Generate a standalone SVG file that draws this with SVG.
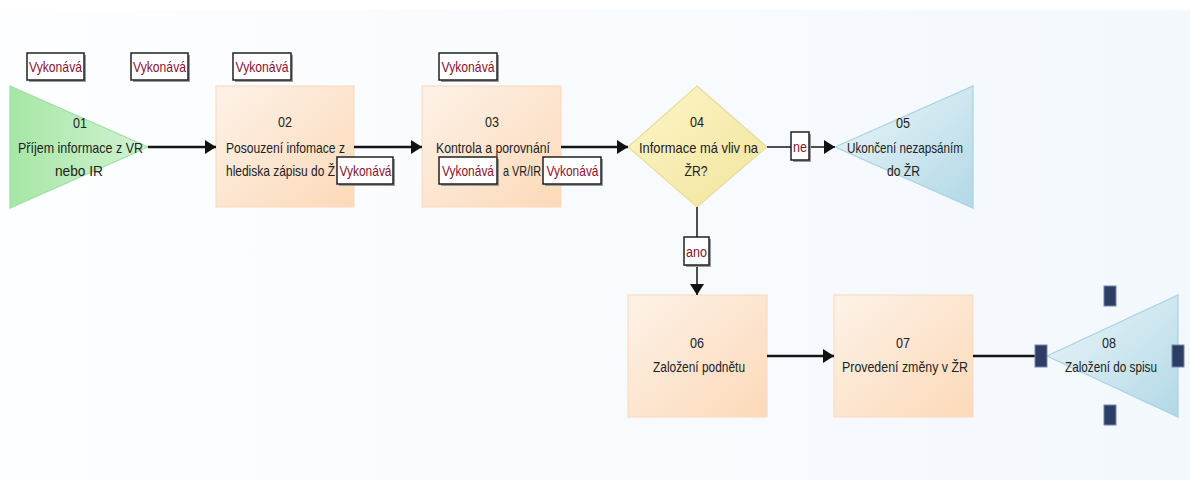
<svg xmlns="http://www.w3.org/2000/svg" width="1190" height="483" viewBox="0 0 1190 483">
<defs>
<linearGradient id="bg" x1="0" y1="0" x2="1" y2="0"><stop offset="0" stop-color="#fdfeff"/><stop offset="1" stop-color="#f3f8fd"/></linearGradient>
<linearGradient id="gGreen" x1="0" y1="0" x2="1" y2="0"><stop offset="0" stop-color="#a6e6a6"/><stop offset="1" stop-color="#d2f3d2"/></linearGradient>
<linearGradient id="gPeach" x1="0" y1="0" x2="1" y2="1"><stop offset="0" stop-color="#fdf2e8"/><stop offset="1" stop-color="#fcd9b8"/></linearGradient>
<linearGradient id="gYellow" x1="0" y1="0" x2="1" y2="1"><stop offset="0" stop-color="#fcf5c8"/><stop offset="1" stop-color="#f2e49c"/></linearGradient>
<linearGradient id="gBlue" x1="0" y1="0" x2="1" y2="1"><stop offset="0" stop-color="#edf6fa"/><stop offset="1" stop-color="#b2d8e6"/></linearGradient>
<marker id="arr" markerUnits="userSpaceOnUse" markerWidth="12" markerHeight="14" refX="11" refY="7" orient="auto"><path d="M0,0 L11,7 L0,14 Z" fill="#111"/></marker>
<style>
.t{font-family:"Liberation Sans",Arial,sans-serif;font-size:15px;fill:#222;text-anchor:middle}
.ts{font-family:"Liberation Sans",Arial,sans-serif;font-size:15px;fill:#222;text-anchor:start}
.lbl{font-family:"Liberation Sans",Arial,sans-serif;font-size:15px;fill:#8a1030;text-anchor:middle}
.lb{fill:#fff;stroke:#222;stroke-width:1.5}
.sh{fill:#9a9a9a}
.c{fill:none;stroke:#151515;stroke-width:2.5}
.ct{fill:none;stroke:#151515;stroke-width:1.5}
.peach{fill:url(#gPeach);stroke:#fbdcc2;stroke-width:1.2}
.blue{fill:url(#gBlue);stroke:#a9d2e1;stroke-width:1.2}
.h{fill:#2d3e66;stroke:#7886a6;stroke-width:1}
</style>
</defs>
<rect x="0" y="0" width="1190" height="483" fill="#ffffff"/>
<rect x="0" y="10" width="1190" height="470" fill="url(#bg)"/>

<g id="node01">
<polygon points="10,86 148,147 10,208" fill="url(#gGreen)" stroke="#9fe09f" stroke-width="1.2"/>
<text class="t" x="80" y="128" textLength="14" lengthAdjust="spacingAndGlyphs">01</text>
<text class="t" x="80.5" y="153" textLength="125" lengthAdjust="spacingAndGlyphs">Příjem informace z VR</text>
<text class="t" x="79" y="176" textLength="48" lengthAdjust="spacingAndGlyphs">nebo IR</text>
</g>
<g id="node02">
<rect class="peach" x="216" y="86" width="138" height="121"/>
<text class="t" x="285" y="127" textLength="14" lengthAdjust="spacingAndGlyphs">02</text>
<text class="t" x="285.5" y="153" textLength="119" lengthAdjust="spacingAndGlyphs">Posouzení infomace z</text>
<text class="ts" x="226" y="176" textLength="109" lengthAdjust="spacingAndGlyphs">hlediska zápisu do Ž</text>
</g>
<g id="node03">
<rect class="peach" x="422" y="86" width="139" height="121"/>
<text class="t" x="492" y="127" textLength="14" lengthAdjust="spacingAndGlyphs">03</text>
<text class="t" x="493" y="153" textLength="114" lengthAdjust="spacingAndGlyphs">Kontrola a porovnání</text>
<text class="ts" x="503" y="176" textLength="38" lengthAdjust="spacingAndGlyphs">a VR/IR</text>
</g>
<g id="node04">
<polygon points="697,86 767,147 697,207 628,147" fill="url(#gYellow)" stroke="#eadc9c" stroke-width="1.2"/>
<text class="t" x="697" y="127" textLength="14" lengthAdjust="spacingAndGlyphs">04</text>
<text class="t" x="698.5" y="153" textLength="119" lengthAdjust="spacingAndGlyphs">Informace má vliv na</text>
<text class="t" x="696" y="176" textLength="23" lengthAdjust="spacingAndGlyphs">ŽR?</text>
</g>
<g id="node05">
<polygon class="blue" points="835,147 973,86 973,208"/>
<text class="t" x="903" y="128" textLength="14" lengthAdjust="spacingAndGlyphs">05</text>
<text class="t" x="905" y="153" textLength="116" lengthAdjust="spacingAndGlyphs">Ukončení nezapsáním</text>
<text class="t" x="903.5" y="176" textLength="33" lengthAdjust="spacingAndGlyphs">do ŽR</text>
</g>
<g id="node06">
<rect class="peach" x="628" y="295" width="139" height="122"/>
<text class="t" x="697" y="348" textLength="14" lengthAdjust="spacingAndGlyphs">06</text>
<text class="t" x="699" y="372" textLength="92" lengthAdjust="spacingAndGlyphs">Založení podnětu</text>
</g>
<g id="node07">
<rect class="peach" x="834" y="295" width="139" height="122"/>
<text class="t" x="903" y="348" textLength="14" lengthAdjust="spacingAndGlyphs">07</text>
<text class="t" x="905" y="372" textLength="126" lengthAdjust="spacingAndGlyphs">Provedení změny v ŽR</text>
</g>
<g id="node08">
<polygon class="blue" points="1047,356 1178,295 1178,417"/>
<text class="t" x="1109" y="348" textLength="14" lengthAdjust="spacingAndGlyphs">08</text>
<text class="t" x="1111" y="372" textLength="92" lengthAdjust="spacingAndGlyphs">Založení do spisu</text>
</g>

<g id="connectors">
<path class="c" d="M148,147 H216" marker-end="url(#arr)"/>
<path class="c" d="M354,147 H422" marker-end="url(#arr)"/>
<path class="c" d="M561,147 H628" marker-end="url(#arr)"/>
<path class="ct" d="M767,147 H835" marker-end="url(#arr)"/>
<path class="ct" d="M697,207 V295" marker-end="url(#arr)"/>
<path class="c" d="M767,356 H834" marker-end="url(#arr)"/>
<path class="c" d="M973,356 H1036"/>
</g>

<g id="labels">
<rect class="sh" x="29" y="55" width="57" height="27"/><rect class="lb" x="27" y="53" width="57" height="27"/><text class="lbl" x="55.5" y="72" textLength="53" lengthAdjust="spacingAndGlyphs">Vykonává</text>
<rect class="sh" x="133" y="55" width="57" height="27"/><rect class="lb" x="131" y="53" width="57" height="27"/><text class="lbl" x="159.5" y="72" textLength="53" lengthAdjust="spacingAndGlyphs">Vykonává</text>
<rect class="sh" x="235" y="55" width="58" height="27"/><rect class="lb" x="233" y="53" width="58" height="27"/><text class="lbl" x="262" y="72" textLength="53" lengthAdjust="spacingAndGlyphs">Vykonává</text>
<rect class="sh" x="441" y="55" width="58" height="27"/><rect class="lb" x="439" y="53" width="58" height="27"/><text class="lbl" x="468" y="72" textLength="53" lengthAdjust="spacingAndGlyphs">Vykonává</text>
<rect class="sh" x="339" y="159" width="56" height="27"/><rect class="lb" x="337" y="157" width="56" height="27"/><text class="lbl" x="365.5" y="176" textLength="52" lengthAdjust="spacingAndGlyphs">Vykonává</text>
<rect class="sh" x="441" y="159" width="58" height="27"/><rect class="lb" x="439" y="157" width="58" height="27"/><text class="lbl" x="468" y="176" textLength="52" lengthAdjust="spacingAndGlyphs">Vykonává</text>
<rect class="sh" x="545" y="159" width="58" height="27"/><rect class="lb" x="543" y="157" width="58" height="27"/><text class="lbl" x="572.5" y="176" textLength="52" lengthAdjust="spacingAndGlyphs">Vykonává</text>
<rect class="sh" x="793" y="134" width="18" height="28"/><rect class="lb" x="791" y="132" width="18" height="28"/><text class="lbl" x="800" y="152" textLength="14" lengthAdjust="spacingAndGlyphs">ne</text>
<rect class="sh" x="686" y="239" width="25" height="28"/><rect class="lb" x="684" y="237" width="25" height="28"/><text class="lbl" x="696.5" y="257" textLength="21" lengthAdjust="spacingAndGlyphs">ano</text>
</g>

<g id="handles08">
<rect class="h" x="1104" y="286" width="12" height="20"/>
<rect class="h" x="1104" y="405" width="12" height="20"/>
<rect class="h" x="1035" y="345" width="12" height="22"/>
<rect class="h" x="1172" y="345" width="12" height="22"/>
</g>
</svg>
